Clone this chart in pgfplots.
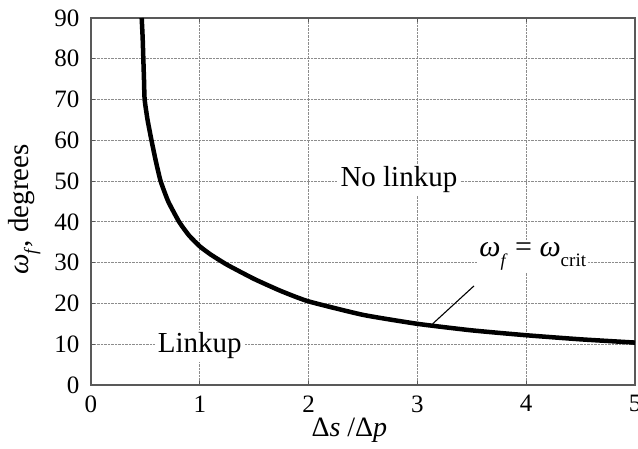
\documentclass[border=0pt]{standalone}
\usepackage{pgfplots}
\pgfplotsset{compat=1.18}
\usepackage{fontspec}
\setmainfont{Liberation Serif}
\begin{document}
\begin{tikzpicture}
\begin{axis}[
  scale only axis,
  width=544pt, height=367pt,
  xmin=0, xmax=5, ymin=0, ymax=90,
  xtick={0,1,2,3,4,5},
  ytick={0,10,20,30,40,50,60,70,80,90},
  grid=major,
  major grid style={black!45, densely dotted, line width=0.9pt},
  axis line style={black!65, line width=1.1pt},
  tick style={black!65, line width=0.8pt},
  major tick length=4pt,
  tick align=inside,
  /pgf/number format/assume math mode=true,
  tick label style={font=\fontsize{25}{27}\selectfont},
  xticklabel style={yshift=-7pt},
  yticklabel style={xshift=-8pt},
  xlabel={Δ\textit{s} /Δ\textit{p}},
  xlabel style={font=\fontsize{28}{30}\selectfont, at={(axis description cs:0.475,-0.1417)}, anchor=base},
  ylabel={\textit{ω}\raisebox{-0.3em}{\fontsize{18}{18}\selectfont\textit{f}}, degrees},
  ylabel style={font=\fontsize{29}{31}\selectfont, at={(axis description cs:-0.1158,0.478)}, anchor=base},
]
% critical spacing curve separating linkup from no linkup
\addplot[black, line width=4.5pt, smooth, tension=0.3] coordinates {
  (0.466,90) (0.475,85) (0.481,80) (0.487,75) (0.493,70)
  (0.52,65) (0.556,60) (0.595,55) (0.64,50) (0.71,45)
  (0.81,40) (0.90,36.7) (1.00,34) (1.10,32) (1.25,29.5)
  (1.50,26) (1.75,23) (2.00,20.5) (2.50,17.2) (3.00,15)
  (3.50,13.4) (4.00,12.2) (4.50,11.2) (5.00,10.4)
};
% pointer to the curve
\addplot[black, line width=1.1pt] coordinates {(3.14,15.0) (3.52,24.3)};
\node[fill=white, inner sep=3pt, font=\fontsize{29}{31}\selectfont] at (axis cs:2.83,50.3) {No linkup};
\node[fill=white, inner sep=3pt, font=\fontsize{29}{31}\selectfont] at (axis cs:1.0,9.6) {Linkup};
\node[fill=white, inner sep=2pt, font=\fontsize{30}{32}\selectfont] at (axis cs:4.06,31.5)
  {\textit{ω}\raisebox{-0.35em}{\fontsize{18}{18}\selectfont\textit{f}} = \textit{ω}\raisebox{-0.35em}{\fontsize{19}{19}\selectfont crit}};
\end{axis}
\pgfresetboundingbox
\path[use as bounding box] (current axis.south west) ++(-91pt,-64pt) rectangle ++(638pt,449pt);
\end{tikzpicture}
\end{document}
